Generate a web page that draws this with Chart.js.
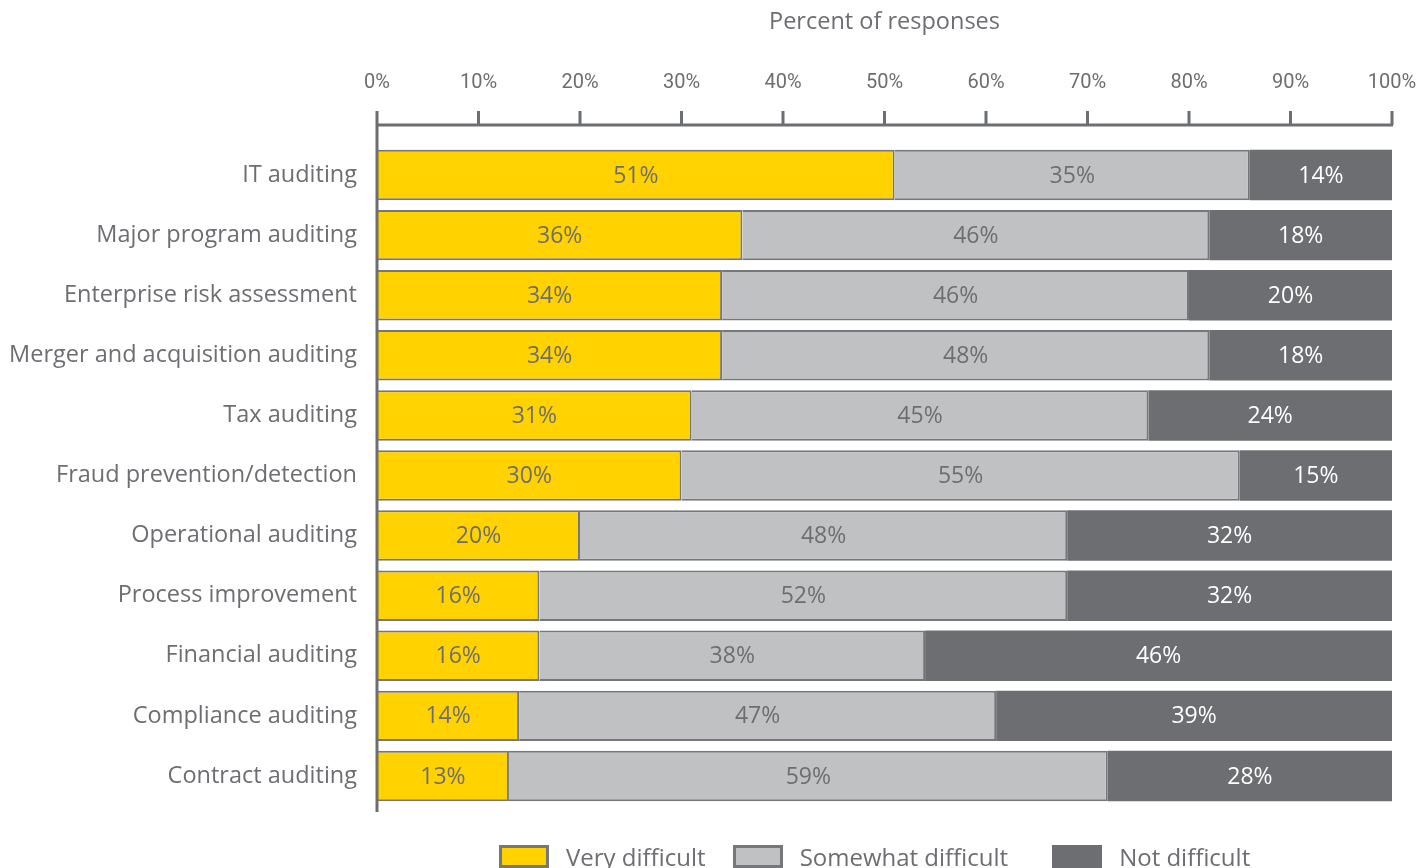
<!DOCTYPE html>
<html>
<head>
<meta charset="utf-8">
<script src="https://cdn.jsdelivr.net/npm/chart.js@4.4.1/dist/chart.umd.min.js"></script>
<style>
  html, body { margin: 0; padding: 0; background: #fff; }
  #wrap { position: relative; width: 1419px; height: 868px; }
  #legend { position: absolute; left: 499px; top: 840px; display: flex; align-items: center;
            font-family: "Open Sans", sans-serif; font-size: 24px; color: #6d6e71; }
  #legend .item { display: flex; align-items: center; }
  #legend .box { width: 50px; height: 23px; box-sizing: border-box; margin-right: 17px; }
</style>
</head>
<body>
<div id="wrap">
  <canvas id="chart" width="1419" height="868"></canvas>
  <div id="legend"></div>
</div>
<script>
const categories = [
  'IT auditing',
  'Major program auditing',
  'Enterprise risk assessment',
  'Merger and acquisition auditing',
  'Tax auditing',
  'Fraud prevention/detection',
  'Operational auditing',
  'Process improvement',
  'Financial auditing',
  'Compliance auditing',
  'Contract auditing'
];
const veryDifficult     = [51, 36, 34, 34, 31, 30, 20, 16, 16, 14, 13];
const somewhatDifficult = [35, 46, 46, 48, 45, 55, 48, 52, 38, 47, 59];
const notDifficult      = [14, 18, 20, 18, 24, 15, 32, 32, 46, 39, 28];
const seriesNames = ['Very difficult', 'Somewhat difficult', 'Not difficult'];
const tickValues = [0, 10, 20, 30, 40, 50, 60, 70, 80, 90, 100];

const YELLOW = '#ffd200';
const LIGHT = '#c0c1c3';
const DARK = '#6d6e71';
const TEXT = '#6d6e71';
const AXIS = '#6d6e71';

// axis lines sit a little above the bars, so they are drawn by hand
const axisLines = {
  id: 'axisLines',
  afterDatasetsDraw(chart) {
    const { ctx, chartArea, scales } = chart;
    const yLine = chartArea.top - 20;
    ctx.save();
    ctx.strokeStyle = AXIS;
    ctx.lineWidth = 3;
    ctx.beginPath();
    ctx.moveTo(scales.x.getPixelForValue(0), yLine);
    ctx.lineTo(scales.x.getPixelForValue(100) + 1, yLine);
    tickValues.forEach(v => {
      const px = scales.x.getPixelForValue(v);
      ctx.moveTo(px, yLine);
      ctx.lineTo(px, yLine - 14);
    });
    const x0 = scales.x.getPixelForValue(0);
    ctx.moveTo(x0, yLine - 14);
    ctx.lineTo(x0, chartArea.bottom + 6);
    ctx.stroke();
    ctx.restore();
  }
};

// percentage labels centred in each segment
const segmentLabels = {
  id: 'segmentLabels',
  afterDatasetsDraw(chart) {
    const { ctx } = chart;
    ctx.save();
    ctx.font = '23px "Open Sans", sans-serif';
    ctx.textAlign = 'center';
    ctx.textBaseline = 'middle';
    chart.data.datasets.forEach((ds, i) => {
      const meta = chart.getDatasetMeta(i);
      ctx.fillStyle = i === 2 ? '#ffffff' : TEXT;
      meta.data.forEach((bar, j) => {
        const p = bar.getCenterPoint();
        ctx.fillText(ds.data[j] + '%', p.x, p.y + 1);
      });
    });
    ctx.restore();
  }
};

const chart = new Chart(document.getElementById('chart'), {
  type: 'bar',
  data: {
    labels: categories,
    datasets: [
      { label: seriesNames[0], data: veryDifficult, backgroundColor: YELLOW, borderColor: '#76777a', borderWidth: 2 },
      { label: seriesNames[1], data: somewhatDifficult, backgroundColor: LIGHT, borderColor: '#76777a', borderWidth: 2 },
      { label: seriesNames[2], data: notDifficult, backgroundColor: DARK, borderColor: DARK, borderWidth: 0 }
    ]
  },
  options: {
    indexAxis: 'y',
    responsive: false,
    animation: false,
    layout: { padding: { top: 0, right: 27, bottom: 62, left: 0 } },
    barPercentage: 1,
    categoryPercentage: 0.84,
    plugins: {
      legend: { display: false },
      tooltip: { enabled: false }
    },
    scales: {
      x: {
        position: 'top',
        stacked: true,
        min: 0,
        max: 100,
        afterBuildTicks: s => { s.ticks = tickValues.map(v => ({ value: v })); },
        afterFit: s => { s.height = 145; s.paddingLeft = 0; s.paddingRight = 0; },
        border: { display: false },
        grid: { display: false, drawTicks: false },
        ticks: {
          padding: 50,
          color: TEXT,
          font: { family: 'Roboto, sans-serif', size: 20 },
          callback: v => v + '%'
        },
        title: {
          display: true,
          text: 'Percent of responses',
          color: TEXT,
          font: { family: '"Open Sans", sans-serif', size: 23.5 },
          padding: { top: 8, bottom: 0 }
        }
      },
      y: {
        stacked: true,
        afterFit: s => { s.width = 377; },
        border: { display: false },
        grid: { display: false, drawTicks: false },
        ticks: {
          padding: 20,
          color: TEXT,
          font: { family: '"Open Sans", sans-serif', size: 23.5 }
        }
      }
    }
  },
  plugins: [axisLines, segmentLabels]
});

// legend below the plot
const legendBorders = ['#76777a', '#76777a', DARK];
const legendGaps = [27, 44, 0];
const legend = document.getElementById('legend');
chart.data.datasets.forEach((ds, i) => {
  const item = document.createElement('div');
  item.className = 'item';
  item.style.marginRight = legendGaps[i] + 'px';
  const box = document.createElement('span');
  box.className = 'box';
  box.style.background = ds.backgroundColor;
  box.style.border = '3px solid ' + legendBorders[i];
  const txt = document.createElement('span');
  txt.textContent = ds.label;
  item.appendChild(box);
  item.appendChild(txt);
  legend.appendChild(item);
});
</script>
</body>
</html>
